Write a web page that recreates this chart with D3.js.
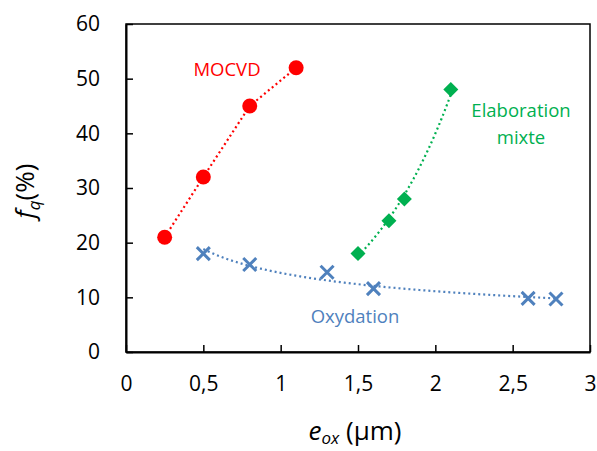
<!DOCTYPE html>
<html><head><meta charset="utf-8">
<script src="https://cdn.jsdelivr.net/npm/d3@7"></script>
<style>body{margin:0;background:#fff}svg{display:block}text{font-family:"Open Sans","Noto Sans",sans-serif}</style>
</head><body><svg id="c" width="597" height="451"></svg>
<script>
const xTicks = [0, 0.5, 1, 1.5, 2, 2.5, 3];
const xTickLabels = ["0", "0,5", "1", "1,5", "2", "2,5", "3"];
const yTicks = [0, 10, 20, 30, 40, 50, 60];

const mocvdX = [0.25, 0.5, 0.8, 1.1];
const mocvdY = [21, 32, 45, 52];
const mixteX = [1.5, 1.7, 1.8, 2.1];
const mixteY = [18, 24, 28, 48];
const oxyX = [0.5, 0.8, 1.3, 1.6, 2.6, 2.78];
const oxyY = [18, 16, 14.6, 11.6, 9.8, 9.7];

const svg = d3.select("#c");
const L = 126, R = 590, T = 24, B = 352;
const x = d3.scaleLinear().domain([0, 3]).range([L, R]);
const y = d3.scaleLinear().domain([0, 60]).range([B, T]);

svg.append("rect").attr("x", L).attr("y", T).attr("width", R - L).attr("height", B - T)
  .attr("fill", "none").attr("stroke", "#000").attr("stroke-width", 1.5);

const xAxis = svg.append("g").attr("transform", `translate(0,${B})`)
  .call(d3.axisBottom(x).tickValues(xTicks).tickFormat((d, i) => xTickLabels[i]).tickSizeInner(-7).tickSizeOuter(0).tickPadding(24));
xAxis.select(".domain").attr("stroke-width", 2);
xAxis.selectAll("line").attr("stroke-width", 1.5);
xAxis.selectAll("text").attr("font-size", 21).attr("fill", "#000");

const yAxis = svg.append("g").attr("transform", `translate(${L},0)`)
  .call(d3.axisLeft(y).tickValues(yTicks).tickSizeInner(-7).tickSizeOuter(0).tickPadding(26));
yAxis.select(".domain").attr("stroke-width", 2);
yAxis.selectAll("line").attr("stroke-width", 1.5);
yAxis.selectAll("text").attr("font-size", 21).attr("fill", "#000");

function zip(a, b) { return a.map((v, i) => [v, b[i]]); }
function linfit(xs, ys) {
  const n = xs.length, mx = d3.mean(xs), my = d3.mean(ys);
  let sxy = 0, sxx = 0;
  for (let i = 0; i < n; i++) { sxy += (xs[i]-mx)*(ys[i]-my); sxx += (xs[i]-mx)**2; }
  const b = sxy / sxx; return [my - b*mx, b];
}
function expTrend(xs, ys) {
  const [a, b] = linfit(xs, ys.map(Math.log));
  return d3.range(0, 61).map(i => { const t = xs[0] + (xs[xs.length-1]-xs[0])*i/60; return [t, Math.exp(a + b*t)]; });
}
function powTrend(xs, ys) {
  const [a, b] = linfit(xs.map(Math.log), ys.map(Math.log));
  return d3.range(0, 81).map(i => { const t = xs[0] + (xs[xs.length-1]-xs[0])*i/80; return [t, Math.exp(a) * Math.pow(t, b)]; });
}

const line = d3.line().x(d => x(d[0])).y(d => y(d[1]));

const series = [
  {pts: zip(mocvdX, mocvdY), trend: zip(mocvdX, mocvdY), color: "#ff0000", shape: "circle"},
  {pts: zip(mixteX, mixteY), trend: expTrend(mixteX, mixteY), color: "#00b050", shape: "diamond"},
  {pts: zip(oxyX, oxyY), trend: powTrend(oxyX, oxyY), color: "#4f81bd", shape: "x"}
];

series.forEach(s => {
  svg.append("path").attr("d", line(s.trend)).attr("fill", "none")
    .attr("stroke", s.color).attr("stroke-width", 2.2).attr("stroke-dasharray", "2,3");
});
series.forEach(s => {
  const g = svg.append("g");
  s.pts.forEach(p => {
    const cx = x(p[0]), cy = y(p[1]);
    if (s.shape === "circle") {
      g.append("circle").attr("cx", cx).attr("cy", cy).attr("r", 7.5).attr("fill", s.color);
    } else if (s.shape === "diamond") {
      g.append("path").attr("d", `M${cx},${cy-7.5}L${cx+7.5},${cy}L${cx},${cy+7.5}L${cx-7.5},${cy}Z`).attr("fill", s.color);
    } else {
      g.append("path").attr("d", `M${cx-6.5},${cy-6.5}L${cx+6.5},${cy+6.5}M${cx-6.5},${cy+6.5}L${cx+6.5},${cy-6.5}`)
        .attr("stroke", s.color).attr("stroke-width", 3);
    }
  });
});

svg.append("text").attr("x", 227).attr("y", 76).attr("text-anchor", "middle").attr("font-size", 18.5).attr("fill", "#ff0000").text("MOCVD");
svg.append("text").attr("x", 521).attr("y", 117).attr("text-anchor", "middle").attr("font-size", 18.5).attr("fill", "#00b050").text("Elaboration");
svg.append("text").attr("x", 521).attr("y", 144).attr("text-anchor", "middle").attr("font-size", 18.5).attr("fill", "#00b050").text("mixte");
svg.append("text").attr("x", 355).attr("y", 323).attr("text-anchor", "middle").attr("font-size", 18.5).attr("fill", "#4f81bd").text("Oxydation");

const yt = svg.append("text").attr("transform", "translate(34,191) rotate(-90)").attr("text-anchor", "middle").attr("font-size", 26).attr("fill", "#000");
yt.append("tspan").attr("font-style", "italic").text("f");
yt.append("tspan").attr("font-style", "italic").attr("font-size", 17).attr("dy", 6).text("q");
yt.append("tspan").attr("dy", -6).text("(%)");

const xt = svg.append("text").attr("x", 355).attr("y", 440).attr("text-anchor", "middle").attr("font-size", 26).attr("fill", "#000");
xt.append("tspan").attr("font-style", "italic").text("e");
xt.append("tspan").attr("font-style", "italic").attr("font-size", 17).attr("dy", 4).text("ox");
xt.append("tspan").attr("dy", -4).text(" (µm)");
</script></body></html>
